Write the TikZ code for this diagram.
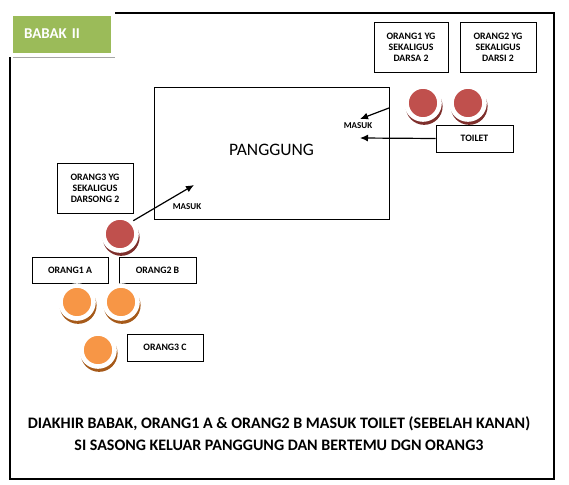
\documentclass[tikz,border=0pt]{standalone}
\usepackage{fontspec}
\setmainfont{Carlito}[BoldFont=Carlito Bold]
\usetikzlibrary{arrows.meta,shadows}

\definecolor{babakgreen}{HTML}{9BBB59}
\definecolor{actorred}{HTML}{C0504D}
\definecolor{actorredshade}{HTML}{7E2F2C}
\definecolor{actororange}{HTML}{F79646}
\definecolor{actororangeshade}{HTML}{A65A1A}

\tikzset{
  infobox/.style={draw,line width=0.9pt,align=center,inner sep=2pt,
    font=\fontsize{9.8}{11}\selectfont\bfseries},
  actor/.style={circle,minimum size=33pt,inner sep=0pt,fill=#1,draw=white,line width=4.6pt},
  redactor/.style={actor=actorred,drop shadow={shadow xshift=1pt,shadow yshift=-3pt,
    shadow scale=1.12,fill=actorredshade,opacity=1}},
  orangeactor/.style={actor=actororange,drop shadow={shadow xshift=1pt,shadow yshift=-3pt,
    shadow scale=1.12,fill=actororangeshade,opacity=1}},
  walk/.style={line width=1.2pt,-{Latex[length=8pt,width=7pt]}},
  smalltag/.style={font=\fontsize{9}{10}\selectfont\bfseries,inner sep=0pt}
}

\begin{document}
\begin{tikzpicture}[x=1pt,y=-1pt]
\useasboundingbox (0,0) rectangle (569,484);

\draw[line width=2.4pt] (10,13) rectangle (554,479);

\node[fill=babakgreen,draw=white,line width=4pt,minimum width=102pt,minimum height=41pt,
  text width=76pt,inner xsep=13pt,align=left,text=white,
  font=\fontsize{15}{17}\selectfont\bfseries,
  drop shadow={shadow xshift=2pt,shadow yshift=-3pt,fill=black!35,opacity=1}]
  (babak) at (62,35) {\raisebox{2pt}{BABAK II}};

\node[draw,line width=0.9pt,minimum width=235pt,minimum height=132pt,
  font=\fontsize{17.5}{20}\selectfont] (stage) at (271.5,153) {\raisebox{6pt}{PANGGUNG}};

\node[infobox,minimum width=74pt,minimum height=50pt] (darsa) at (411,47) {ORANG1 YG\\SEKALIGUS\\DARSA 2};
\node[infobox,minimum width=76pt,minimum height=50pt] (darsi) at (498,47) {ORANG2 YG\\SEKALIGUS\\DARSI 2};
\node[infobox,minimum width=77pt,minimum height=27pt] (toilet) at (474.5,138.5) {TOILET};
\node[infobox,minimum width=76pt,minimum height=50pt] (darsong) at (95,188) {ORANG3 YG\\SEKALIGUS\\DARSONG 2};
\node[infobox,minimum width=76pt,minimum height=26pt] (orangA) at (70,270) {ORANG1 A};
\node[infobox,minimum width=77pt,minimum height=26pt] (orangB) at (157.5,270) {ORANG2 B};
\node[infobox,minimum width=76pt,minimum height=27pt] (orangC) at (165,347.5) {ORANG3 C};

\node[redactor] (darsaact) at (423,103) {};
\node[redactor] (darsiact) at (468,103) {};
\node[redactor] (darsongact) at (120,234) {};
\node[orangeactor] (aact) at (77,302) {};
\node[orangeactor] (bact) at (121,302) {};
\node[orangeactor] (cact) at (98,350) {};

\node[smalltag] (masukkanan) at (358,126) {MASUK};
\node[smalltag] (masukkiri) at (187,207) {MASUK};

\coordinate (kananstart) at (389,108);
\coordinate (kananend) at (360,119);
\coordinate (toiletend) at (360,138);
\coordinate (kiriend) at (194,185);

\draw[walk] (kananstart) -- (kananend);
\draw[walk] (toilet.west) -- (toiletend);
\draw[walk] (darsongact.north east) -- (kiriend);

\node[font=\fontsize{16}{22}\selectfont\bfseries,align=center] (note) at (279,434)
  {DIAKHIR BABAK, ORANG1 A \& ORANG2 B MASUK TOILET (SEBELAH KANAN)\\
   SI SASONG KELUAR PANGGUNG DAN BERTEMU DGN ORANG3};
\end{tikzpicture}
\end{document}
